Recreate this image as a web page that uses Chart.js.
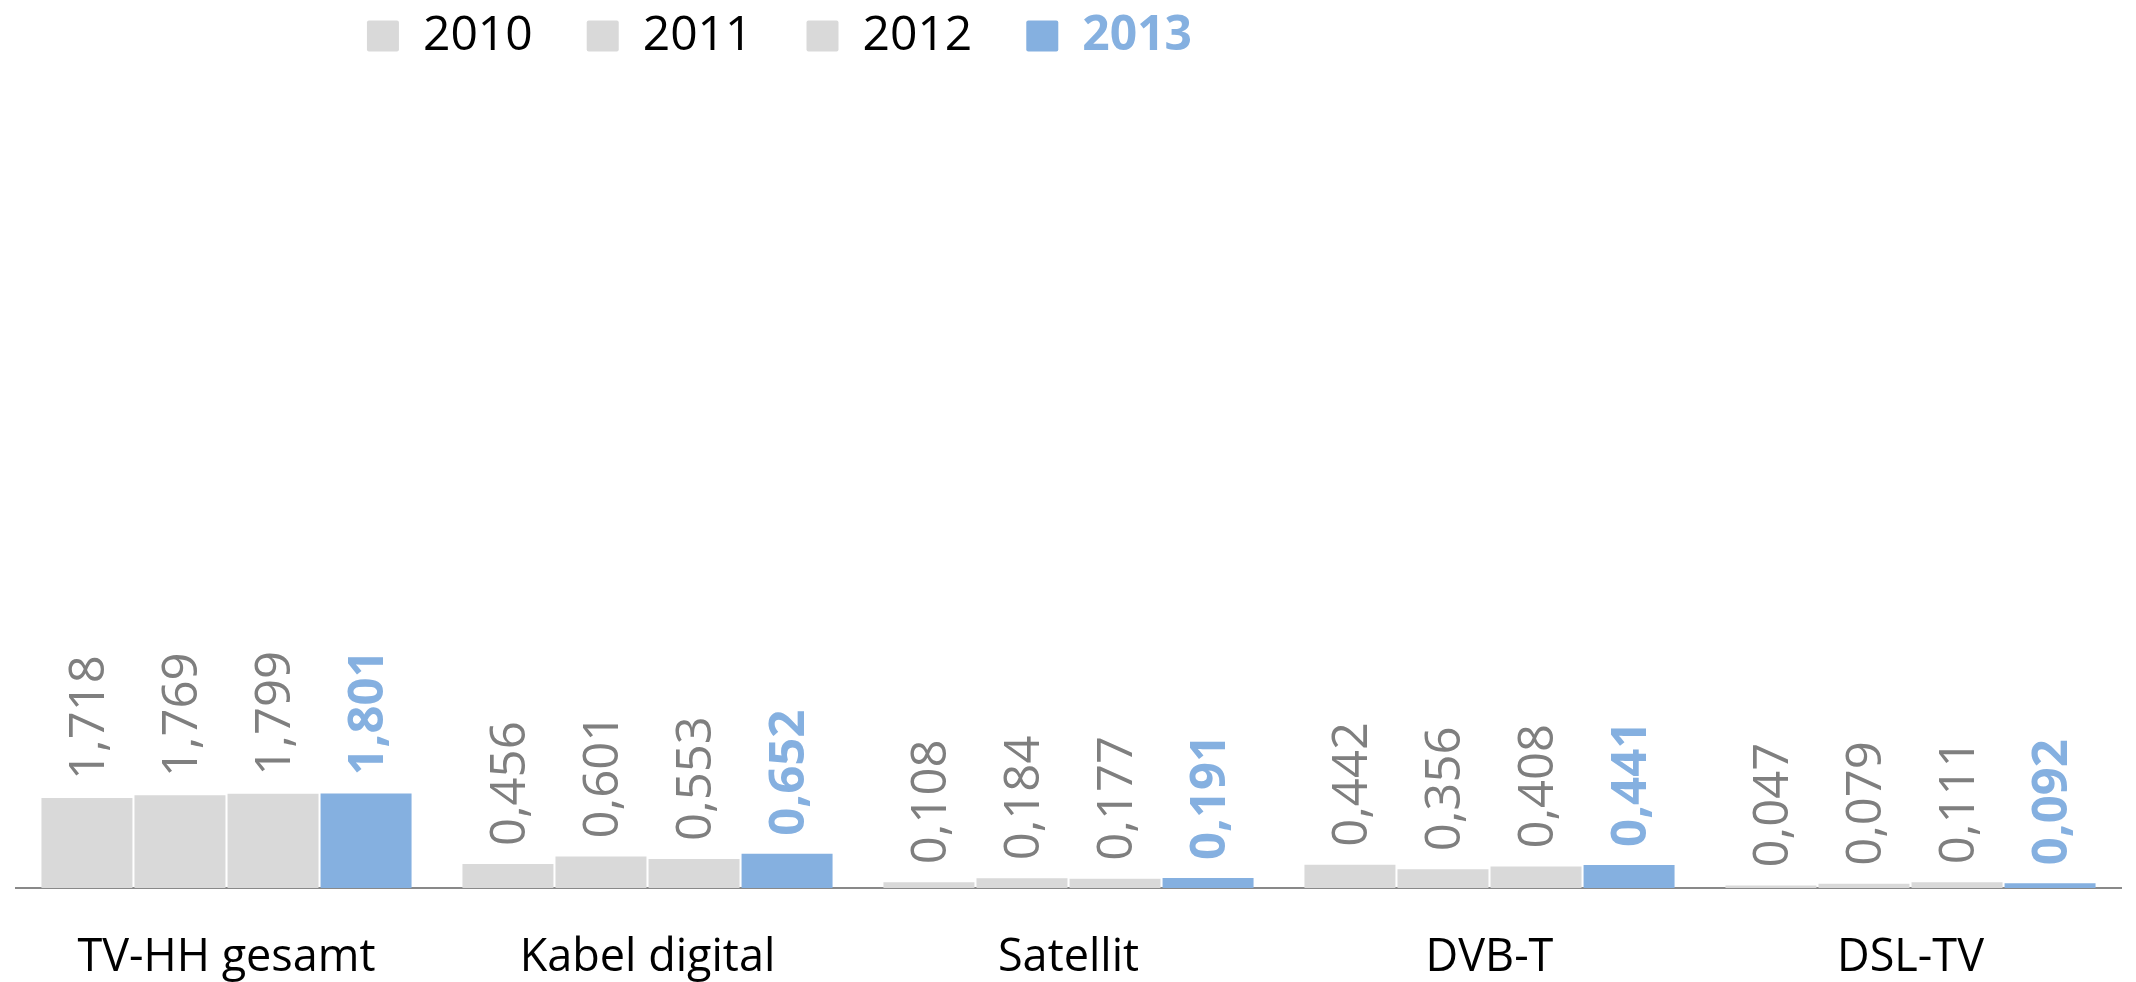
<!DOCTYPE html>
<html>
<head>
<meta charset="utf-8">
<script src="https://cdn.jsdelivr.net/npm/chart.js@4.4.1/dist/chart.umd.min.js"></script>
<style>
  html, body { margin: 0; padding: 0; background: #fff; }
  #chart { display: block; }
</style>
</head>
<body>
<canvas id="chart" width="2136" height="982"></canvas>
<script>
// Werte in Mio.
const categories = ['TV-HH gesamt', 'Kabel digital', 'Satellit', 'DVB-T', 'DSL-TV'];
const years = ['2010', '2011', '2012', '2013'];
const values2010 = [1.718, 0.456, 0.108, 0.442, 0.047];
const values2011 = [1.769, 0.601, 0.184, 0.356, 0.079];
const values2012 = [1.799, 0.553, 0.177, 0.408, 0.111];
const values2013 = [1.801, 0.652, 0.191, 0.441, 0.092];
const yMax = 14.8;

const gray = '#d9d9d9';
const blue = '#85b0e0';
const labelGray = '#7f7f7f';
const fontFamily = '"Open Sans", sans-serif';
const legendSize = 48;

const seriesValues = [values2010, values2011, values2012, values2013];

// legend sits left of centre in the original
const legendShift = {
    id: 'legendShift',
    afterLayout(chart) {
        const l = chart.legend;
        l.left -= 289; l.right -= 289;
        l.top -= 42; l.bottom -= 42;
    }
};

// rotated value labels above each bar
const valueLabels = {
    id: 'valueLabels',
    afterDatasetsDraw(chart) {
        const ctx = chart.ctx;
        chart.data.datasets.forEach((ds, di) => {
            const meta = chart.getDatasetMeta(di);
            const last = di === chart.data.datasets.length - 1;
            ctx.save();
            ctx.font = (last ? 'bold ' : '') + '49px ' + fontFamily;
            ctx.fillStyle = last ? blue : labelGray;
            ctx.textAlign = 'left';
            ctx.textBaseline = 'middle';
            meta.data.forEach((bar, i) => {
                ctx.save();
                ctx.translate(bar.x + 3, bar.y - 18);
                ctx.rotate(-Math.PI / 2);
                ctx.fillText(ds.data[i].toFixed(3).replace('.', ','), 0, 0);
                ctx.restore();
            });
            ctx.restore();
        });
    }
};

// 2013 legend text is bold in the original
const legendBold = {
    id: 'legendBold',
    afterDraw(chart) {
        const hb = chart.legend.legendHitBoxes[3];
        if (!hb) return;
        const ctx = chart.ctx;
        ctx.save();
        ctx.font = 'bold ' + legendSize + 'px ' + fontFamily;
        ctx.fillStyle = blue;
        ctx.textAlign = 'left';
        ctx.textBaseline = 'middle';
        ctx.fillText(years[3], hb.left + 32 + legendSize / 2, hb.top + hb.height / 2);
        ctx.restore();
    }
};

new Chart(document.getElementById('chart'), {
    type: 'bar',
    data: {
        labels: categories,
        datasets: years.map((y, i) => ({
            label: y,
            data: seriesValues[i],
            backgroundColor: i === 3 ? blue : gray,
            borderWidth: 0,
            categoryPercentage: 0.884,
            barPercentage: 0.978
        }))
    },
    options: {
        responsive: false,
        devicePixelRatio: 1,
        animation: false,
        layout: { padding: { left: 16, right: 15, top: 0, bottom: 0 } },
        scales: {
            x: {
                grid: { display: true, color: 'rgba(0,0,0,0)', drawTicks: false },
                border: { display: true, color: '#898989', width: 2 },
                ticks: { color: '#000', padding: 43, font: { family: fontFamily, size: 45, lineHeight: 1.2 } },
                afterFit(scale) { scale.height = 94; }
            },
            y: {
                display: false,
                min: 0,
                max: yMax
            }
        },
        plugins: {
            tooltip: { enabled: false },
            legend: {
                position: 'top',
                labels: {
                    boxWidth: 32,
                    boxHeight: 31,
                    padding: 54,
                    useBorderRadius: true,
                    borderRadius: 2,
                    font: { family: fontFamily, size: legendSize },
                    generateLabels(chart) {
                        return chart.data.datasets.map((ds, i) => ({
                            text: ds.label,
                            fillStyle: ds.backgroundColor,
                            strokeStyle: ds.backgroundColor,
                            lineWidth: 0,
                            borderRadius: 2,
                            fontColor: i === 3 ? 'rgba(0,0,0,0)' : '#000',
                            hidden: false,
                            datasetIndex: i
                        }));
                    }
                }
            }
        }
    },
    plugins: [legendShift, valueLabels, legendBold]
});
</script>
</body>
</html>
